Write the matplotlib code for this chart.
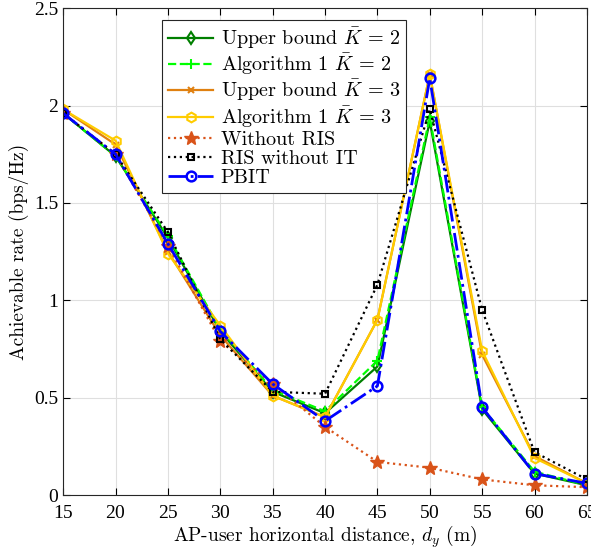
import numpy as np
import matplotlib
matplotlib.use("Agg")
import matplotlib.pyplot as plt

plt.rcParams['font.family'] = 'cmr10'
plt.rcParams['mathtext.fontset'] = 'cm'
plt.rcParams['axes.formatter.use_mathtext'] = True

# Data
d_y = [15, 20, 25, 30, 35, 40, 45, 50, 55, 60, 65]
ub_k2 = [1.96, 1.74, 1.32, 0.84, 0.53, 0.42, 0.66, 1.92, 0.44, 0.11, 0.05]
alg_k2 = [1.96, 1.74, 1.33, 0.85, 0.54, 0.43, 0.69, 1.94, 0.45, 0.12, 0.05]
ub_k3 = [1.98, 1.80, 1.25, 0.82, 0.51, 0.40, 0.90, 2.16, 0.72, 0.20, 0.06]
alg_k3 = [1.98, 1.82, 1.24, 0.87, 0.51, 0.40, 0.90, 2.16, 0.74, 0.19, 0.06]
no_ris = [1.96, 1.75, 1.28, 0.79, 0.57, 0.35, 0.17, 0.14, 0.08, 0.05, 0.04]
ris_no_it = [1.96, 1.75, 1.35, 0.80, 0.53, 0.52, 1.08, 1.98, 0.95, 0.22, 0.08]
pbit = [1.96, 1.75, 1.29, 0.84, 0.57, 0.38, 0.56, 2.14, 0.45, 0.11, 0.06]

xticks = [15, 20, 25, 30, 35, 40, 45, 50, 55, 60, 65]
yticks = [0, 0.5, 1, 1.5, 2, 2.5]
ytick_labels = ['0', '0.5', '1', '1.5', '2', '2.5']

fig = plt.figure(figsize=(5.91, 5.5), dpi=100)
ax = fig.add_axes([0.107, 0.1, 0.886, 0.885])

lw = 1.6
ax.plot(d_y, ub_k2, '-', color='#007F00', lw=lw, marker='d', ms=6, mfc='none', mew=1.5,
        label=r'Upper bound $\bar{K}\,=\,2$')
ax.plot(d_y, alg_k2, '--', color='#00FF00', lw=lw, marker='+', ms=7, mew=1.5,
        label=r'Algorithm 1 $\bar{K}\,=\,2$')
ax.plot(d_y, ub_k3, '-', color='#E08010', lw=lw, marker='x', ms=5, mew=1.5,
        label=r'Upper bound $\bar{K}\,=\,3$')
ax.plot(d_y, alg_k3, '-', color='#FFCC00', lw=lw, marker='h', ms=7, mfc='none', mew=1.5,
        label=r'Algorithm 1 $\bar{K}\,=\,3$')
ax.plot(d_y, no_ris, ':', color='#D95319', lw=lw, marker='*', ms=10, mfc='#D95319',
        label='Without RIS')
ax.plot(d_y, ris_no_it, ':', color='black', lw=lw, marker='s', ms=5, mfc='none', mew=1.5,
        label='RIS without IT')
ax.plot(d_y, pbit, '-.', color='#0000FF', lw=2, marker='o', ms=7, mfc='none', mew=1.8,
        label='PBIT')

ax.set_xlim(15, 65)
ax.set_ylim(0, 2.5)
ax.set_xticks(xticks)
ax.set_yticks(yticks)
ax.set_yticklabels(ytick_labels)
ax.grid(True, color='#DFDFDF', lw=0.8)
ax.tick_params(direction='in', top=True, right=True, labelsize=14, length=5)
ax.tick_params(axis='x', pad=7)
for lab in ax.get_xticklabels() + ax.get_yticklabels():
    lab.set_fontfamily('Liberation Serif')
for s in ax.spines.values():
    s.set_color('#262626')
ax.set_xlabel(r'AP-user horizontal distance, $d_y$ (m)', fontsize=14, labelpad=1)
ax.set_ylabel('Achievable rate (bps/Hz)', fontsize=14, labelpad=4)

leg = ax.legend(loc='upper left', bbox_to_anchor=(0.17, 0.997), fontsize=14.5,
                frameon=True, fancybox=False, edgecolor='#262626', framealpha=1,
                borderpad=0.3, labelspacing=0.05, handlelength=2.2, handletextpad=0.4)
leg.get_frame().set_linewidth(0.8)

plt.savefig("out.png", dpi=100)
